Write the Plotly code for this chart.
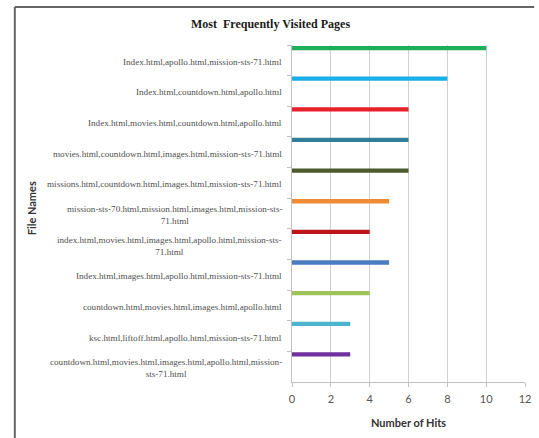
import plotly.graph_objects as go

# Page combinations and how often each was visited
pages = [
    "Index.html,apollo.html,mission-sts-71.html",
    "Index.html,countdown.html,apollo.html",
    "Index.html,movies.html,countdown.html,apollo.html",
    "movies.html,countdown.html,images.html,mission-sts-71.html",
    "missions.html,countdown.html,images.html,mission-sts-71.html",
    "mission-sts-70.html,mission.html,images.html,mission-sts-<br>71.html",
    "index.html,movies.html,images.html,apollo.html,mission-sts-<br>71.html",
    "Index.html,images.html,apollo.html,mission-sts-71.html",
    "countdown.html,movies.html,images.html,apollo.html",
    "ksc.html,liftoff.html,apollo.html,mission-sts-71.html",
    "countdown.html,movies.html,images.html,apollo.html,mission-<br>sts-71.html",
]
hits = [10, 8, 6, 6, 6, 5, 4, 5, 4, 3, 3]
bar_colors = [
    "#1fae5a", "#1aaee8", "#e8202a", "#2f7f99", "#4d5a2c", "#ef8a35",
    "#c0141c", "#4a7cc0", "#9dc35a", "#4bb4d0", "#7030a0",
]
x_ticks = [0, 2, 4, 6, 8, 10, 12]

W, H = 539, 438
ML, MR, MT, MB = 291.5, 7.5, 45, 56
pw, ph = W - ML - MR, H - MT - MB


def px_x(p):
    return (p - ML) / pw


def px_y(p):
    return (H - MB - p) / ph


fig = go.Figure()
fig.add_trace(go.Bar(
    y=pages,
    x=hits,
    orientation="h",
    marker=dict(color=bar_colors, line=dict(width=0)),
    offset=-0.47,
    width=0.14,
    hoverinfo="x+y",
))

annotations = []
for name in pages:
    annotations.append(dict(
        x=0, xref="paper", y=name, yref="y", xshift=-8, yshift=-1.5,
        text=name, showarrow=False, xanchor="right", yanchor="middle",
        align="center",
        font=dict(family="Liberation Serif", size=9.15, color="#505050"),
    ))

annotations += [
    dict(x=px_x(269.5), y=px_y(24), xref="paper", yref="paper",
         text="<b>Most  Frequently Visited Pages</b>", showarrow=False,
         xanchor="center", yanchor="middle",
         font=dict(family="Liberation Serif", size=12, color="#1a1a1a")),
    dict(x=px_x(412), y=px_y(422), xref="paper", yref="paper",
         text="<b>Number of Hits</b>", showarrow=False,
         xanchor="center", yanchor="middle",
         font=dict(family="Lato", size=11, color="#333333")),
    dict(x=px_x(23), y=px_y(208), xref="paper", yref="paper",
         text="<b>File Names</b>", showarrow=False, textangle=-90,
         xanchor="center", yanchor="middle",
         font=dict(family="Lato", size=11, color="#333333")),
]

frame = dict(color="#666666", width=2)
shapes = [
    dict(type="line", xref="paper", yref="paper",
         x0=px_x(6), x1=px_x(6), y0=px_y(7), y1=px_y(H + 2), line=frame),
    dict(type="line", xref="paper", yref="paper",
         x0=px_x(6), x1=px_x(W + 2), y0=px_y(7), y1=px_y(7), line=frame),
]

fig.update_layout(
    width=W, height=H,
    margin=dict(l=ML, r=MR, t=MT, b=MB, pad=0),
    paper_bgcolor="white", plot_bgcolor="white",
    showlegend=False,
    annotations=annotations,
    shapes=shapes,
    xaxis=dict(
        range=[0, 12], tickvals=x_ticks, ticktext=[str(v) for v in x_ticks],
        showgrid=True, gridcolor="#d0d0d0", gridwidth=1,
        zeroline=False, showline=True, linecolor="#c0c0c0", linewidth=1,
        ticks="outside", ticklen=4, tickcolor="#c0c0c0",
        ticklabelstandoff=3,
        tickfont=dict(family="Lato", size=11, color="#555555"),
        fixedrange=True,
    ),
    yaxis=dict(
        type="category", categoryorder="array", categoryarray=pages,
        range=[len(pages) - 0.5, -0.5],
        showticklabels=False, showgrid=False, zeroline=False,
        showline=True, linecolor="#c0c0c0", linewidth=1,
        ticks="outside", ticklen=4, tickcolor="#c0c0c0",
        tickson="boundaries", fixedrange=True,
    ),
)

fig.write_html("out.html")
